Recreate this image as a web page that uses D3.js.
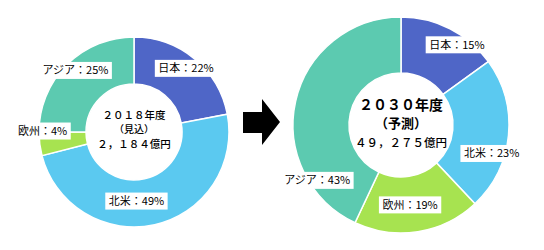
<!DOCTYPE html>
<html>
<head>
<meta charset="utf-8">
<script src="https://cdn.jsdelivr.net/npm/d3@7"></script>
<style>
  html, body { margin: 0; padding: 0; background: #fff; }
  svg { display: block; }
  text { font-family: "Noto Sans CJK JP", "Noto Sans", sans-serif; fill: #000; }
</style>
</head>
<body>
<div id="chart"></div>
<script>
// data
const regions = ["日本", "北米", "欧州", "アジア"];
const share2018 = [22, 49, 4, 25];
const share2030 = [15, 23, 19, 43];
const title2018 = ["２０１８年度", "（見込）", "２，１８４億円"];
const title2030 = ["２０３０年度", "（予測）", "４９，２７５億円"];

const W = 544, H = 250;

const svg = d3.select("#chart").append("svg")
    .attr("width", W)
    .attr("height", H);

const color = d3.scaleOrdinal()
    .domain(regions)
    .range(["#4f66c7", "#5bc9f0", "#a7e350", "#5ccab0"]);

// one donut per year
function drawDonut(opts) {
    const g = svg.append("g")
        .attr("transform", `translate(${opts.cx},${opts.cy})`);

    const rows = regions.map((r, i) => ({region: r, value: opts.values[i]}));

    const pie = d3.pie()
        .value(d => d.value)
        .sort(null);

    const arc = d3.arc()
        .innerRadius(opts.inner)
        .outerRadius(opts.outer);

    const labelArc = d3.arc()
        .innerRadius(opts.labelR)
        .outerRadius(opts.labelR);

    const arcs = pie(rows);

    g.selectAll(".slice")
        .data(arcs)
        .enter().append("path")
        .attr("class", "slice")
        .attr("d", arc)
        .attr("fill", d => color(d.data.region))
        .attr("stroke", "#fff")
        .attr("stroke-width", 1.5);

    // labels in white boxes, nudged where Excel had them dragged
    const lab = g.selectAll(".lab")
        .data(arcs)
        .enter().append("g")
        .attr("class", "lab")
        .attr("transform", (d, i) => {
            const c = labelArc.centroid(d);
            const n = opts.nudge[i];
            return `translate(${c[0] + n[0]},${c[1] + n[1]})`;
        });

    lab.append("rect").attr("fill", "#fff");

    lab.append("text")
        .attr("text-anchor", "middle")
        .attr("dy", "0.36em")
        .style("font-size", "11px")
        .text(d => `${d.data.region}：${d.data.value}%`);

    lab.each(function() {
        const t = d3.select(this).select("text").node();
        const w = t.getComputedTextLength() + 7;
        d3.select(this).select("rect")
            .attr("x", -w / 2)
            .attr("y", -8.5)
            .attr("width", w)
            .attr("height", 17);
    });

    // centre text
    g.selectAll(".ctr")
        .data(opts.title)
        .enter().append("text")
        .attr("class", "ctr")
        .attr("text-anchor", "middle")
        .attr("y", (d, i) => opts.lineY[i])
        .attr("dy", "0.36em")
        .style("font-size", (d, i) => opts.lineSize[i] + "px")
        .style("font-weight", (d, i) => opts.lineWeight[i])
        .text(d => d);
}

drawDonut({
    cx: 134, cy: 132, outer: 95, inner: 48, labelR: 80,
    values: share2018, title: title2018,
    nudge: [[1, -2], [-15, -9], [-12, -11], [-2, -5]],
    lineY: [-17, -3, 12], lineSize: [10.5, 10, 10.5], lineWeight: [500, 500, 500]
});

drawDonut({
    cx: 401, cy: 125, outer: 108, inner: 52, labelR: 90,
    values: share2030, title: title2030,
    nudge: [[15, 0], [1, 20], [-5, -9], [4, 75]],
    lineY: [-20, -2, 18], lineSize: [14, 13, 11.5], lineWeight: [700, 700, 500]
});

// arrow between the charts
svg.append("path")
    .attr("d", "M243,112 L262,112 L262,99 L280,122 L262,145 L262,133 L243,133 Z")
    .attr("fill", "#000");
</script>
</body>
</html>
